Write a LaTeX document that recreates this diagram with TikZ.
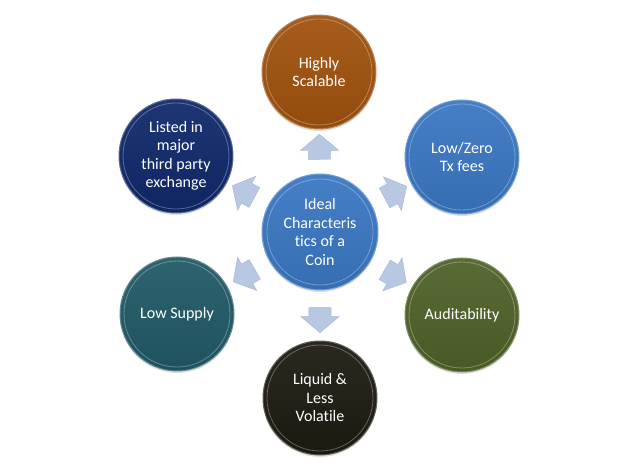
\documentclass[tikz,border=0pt]{standalone}
\usepackage{fontspec}
\setmainfont{Carlito}[Ligatures=CommonOff]
\usetikzlibrary{shapes.arrows,shadows}
\definecolor{rust}{HTML}{A0520E}
\definecolor{sky}{HTML}{3A77C2}
\definecolor{olive}{HTML}{4F6228}
\definecolor{soot}{HTML}{1D1B11}
\definecolor{teal}{HTML}{215967}
\definecolor{navy}{HTML}{10296B}
\definecolor{haze}{HTML}{B8C8E2}
\definecolor{hazeline}{HTML}{A3B6D8}

\begin{document}
\begin{tikzpicture}[x=1pt, y=-1pt,
          ball/.style={circle, minimum size=114pt, inner sep=0pt, align=center,
                    text=white, font=\fontsize{16}{18.5}\selectfont,
                    draw=#1!70!white, line width=1pt,
                    top color=#1!94!white, bottom color=#1!92!black,
                    drop shadow={opacity=0.25, shadow xshift=0pt, shadow yshift=-2pt},
                    path picture={\draw[white, opacity=0.3, line width=0.8pt]
                      (path picture bounding box.center) circle (53pt);}},
          arr/.style={single arrow, draw=hazeline, fill=haze,
                    inner xsep=0pt, inner ysep=11pt,
                    minimum height=25pt,
                    single arrow head extend=8pt, single arrow tip angle=100,
                    sloped, allow upside down}]
        \useasboundingbox (0,0) rectangle (640,465);
        \node[ball=sky, minimum size=116pt] (c) at (320,232) {Ideal\\Characteris\\tics of a\\Coin};
        \node[ball=rust] (scal) at (319,72) {Highly\\Scalable};
        \node[ball=sky] (fees) at (462,157) {Low/Zero\\Tx fees};
        \node[ball=olive] (audit) at (462,315) {Auditability};
        \node[ball=soot] (liq) at (320,398) {Liquid \&\\Less\\Volatile};
        \node[ball=teal] (supply) at (177,314) {Low Supply};
        \node[ball=navy] (listed) at (176,156) {Listed in\\major\\third party\\exchange};
        % block arrows half way out
        \path (c) -- (scal) node[arr, midway] (a1) {};
        \path (c) -- (fees) node[arr, midway] (a2) {};
        \path (c) -- (audit) node[arr, midway] (a3) {};
        \path (c) -- (liq) node[arr, midway] (a4) {};
        \path (c) -- (supply) node[arr, midway] (a5) {};
        \path (c) -- (listed) node[arr, midway] (a6) {};
      \end{tikzpicture}
\end{document}
